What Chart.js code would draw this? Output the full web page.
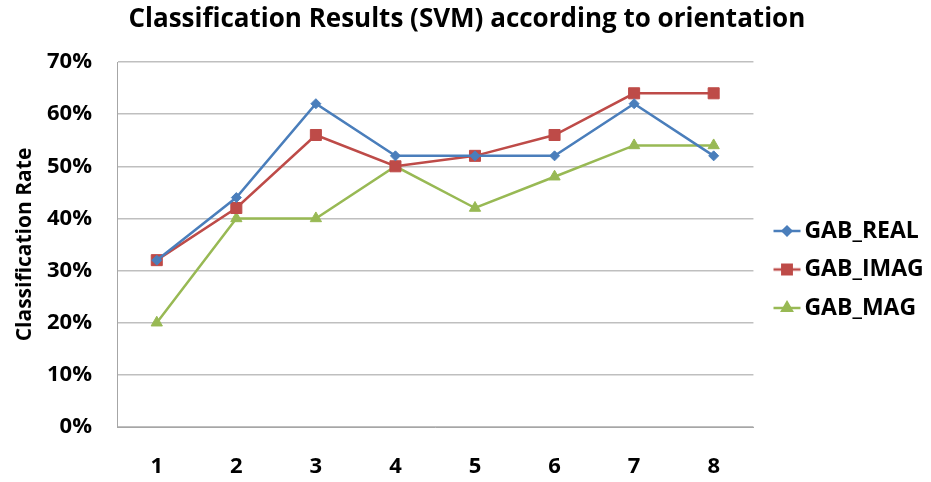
<!DOCTYPE html>
<html><head><meta charset="utf-8">
<script src="https://cdn.jsdelivr.net/npm/chart.js@4.4.1/dist/chart.umd.min.js"></script>
<style>html,body{margin:0;padding:0;background:#fff}#wrap{width:931px;height:482px}</style>
</head><body><div id="wrap"><canvas id="c" width="931" height="482"></canvas></div>
<script>
const categories = ['1','2','3','4','5','6','7','8'];
const gabReal = [32, 44, 62, 52, 52, 52, 62, 52];
const gabImag = [32, 42, 56, 50, 52, 56, 64, 64];
const gabMag  = [20, 40, 40, 50, 42, 48, 54, 54];
const seriesNames = ['GAB_REAL', 'GAB_IMAG', 'GAB_MAG'];
const yTicks = [0, 10, 20, 30, 40, 50, 60, 70];

const FONT = '"Open Sans", sans-serif';
const colors = ['#4A7EBB', '#BE4B48', '#98B954'];
const styles = ['rectRot', 'rect', 'triangle'];
const radii = [5, 7.8, 6.5];

function legendIcon(i){
  const cv = document.createElement('canvas');
  cv.width = 48; cv.height = 18;
  const g = cv.getContext('2d');
  g.strokeStyle = colors[i]; g.fillStyle = colors[i]; g.lineWidth = 2.5;
  g.beginPath(); g.moveTo(16.5, 9); g.lineTo(43.5, 9); g.stroke();
  Chart.helpers.drawPoint(g, {pointStyle: styles[i], radius: radii[i]*0.85, borderWidth: 1}, 30, 9);
  g.fill();
  return cv;
}

const datasets = [gabReal, gabImag, gabMag].map((d, i) => ({
  label: seriesNames[i],
  data: d,
  borderColor: colors[i],
  backgroundColor: colors[i],
  borderWidth: 2.5,
  pointStyle: styles[i],
  pointRadius: radii[i],
  pointHoverRadius: radii[i],
  pointBorderWidth: 1,
  tension: 0
}));

new Chart(document.getElementById('c'), {
  type: 'line',
  data: { labels: categories, datasets },
  options: {
    responsive: false,
    animation: false,
    layout: { padding: { left: 0, right: -2.7, top: 0, bottom: 0 } },
    plugins: {
      title: {
        display: true,
        text: 'Classification Results (SVM) according to orientation',
        font: { family: FONT, size: 26, weight: 'bold' },
        color: '#000',
        padding: { top: 4.4, bottom: 26.4 }
      },
      legend: {
        position: 'right',
        title: { display: true, text: ' ', font: { family: FONT, size: 20 }, padding: { top: 16.5, bottom: 16.5 } },
        labels: {
          usePointStyle: true,
          pointStyleWidth: 24,
          font: { family: FONT, size: 23, weight: 'bold' },
          color: '#000',
          padding: 15.5,
          generateLabels: (chart) => chart.data.datasets.map((ds, i) => ({
            text: ds.label,
            pointStyle: legendIcon(i),
            datasetIndex: i,
            fontColor: '#000',
            lineWidth: 0
          }))
        }
      },
      tooltip: { enabled: false }
    },
    scales: {
      x: {
        type: 'category',
        offset: true,
        afterFit: (s) => { s.height = 55; },
        grid: { display: false, drawTicks: false },
        border: { display: true, color: '#A6A6A6', width: 1 },
        ticks: { font: { family: FONT, size: 22, weight: 'bold' }, color: '#000', padding: 27 }
      },
      y: {
        min: 0, max: 70,
        afterFit: (s) => { s.width = 117; },
        afterBuildTicks: (s) => { s.ticks = yTicks.map(v => ({ value: v })); },
        grid: { color: '#BFBFBF', lineWidth: 1.5, drawTicks: false },
        border: { display: true, color: '#A6A6A6', width: 1 },
        ticks: { font: { family: FONT, size: 22, weight: 'bold' }, color: '#000', padding: 25, callback: v => v + '%' },
        title: { display: true, text: 'Classification Rate', font: { family: FONT, size: 21, weight: 'bold' }, color: '#000', padding: { top: 12.4, bottom: 0 } }
      }
    }
  }
});
</script></body></html>
